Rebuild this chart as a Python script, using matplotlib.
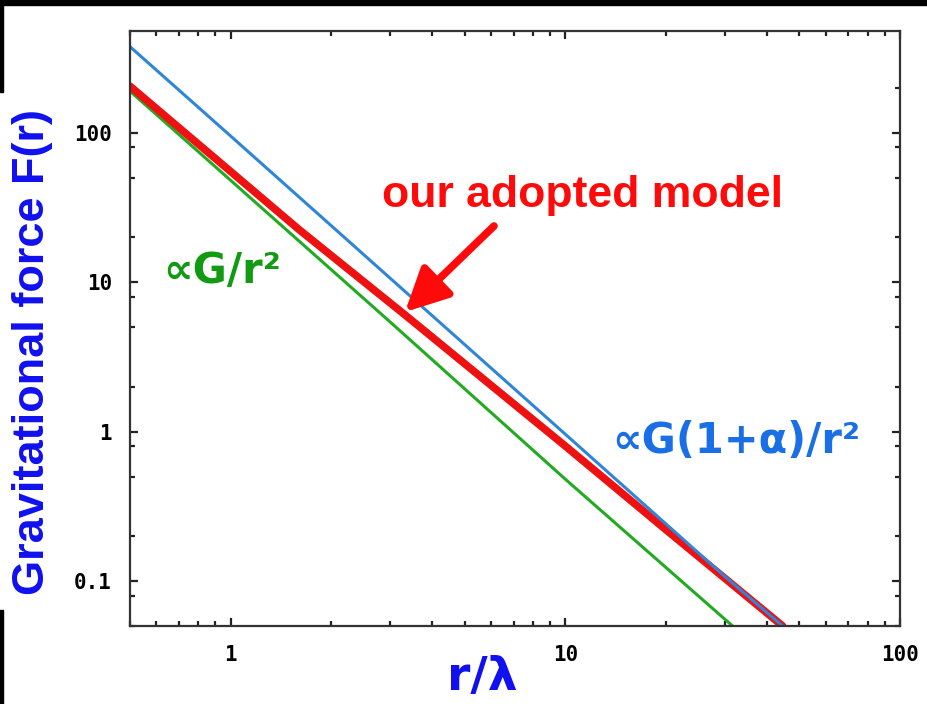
import matplotlib
matplotlib.use('Agg')
from matplotlib import pyplot as plt
from matplotlib.patches import Rectangle
from matplotlib.ticker import FixedLocator, FixedFormatter, NullFormatter

# r/lambda and force values for the three curves
r_newton = [0.5, 1.0, 3.0, 10.0, 31.6]
f_newton = [190, 48, 5.4, 0.48, 0.05]

r_enhanced = [0.5, 1.0, 3.0, 10.0, 30.0, 44.6]
f_enhanced = [377, 95, 10.6, 0.96, 0.107, 0.05]

r_model = [0.5, 1.0, 1.6, 3.3, 10.0, 20.0, 44.6]
f_model = [205, 55, 22.5, 6.1, 0.8, 0.22, 0.05]

x_major = [1, 10, 100]
x_labels = ['1', '10', '100']
y_major = [0.1, 1, 10, 100]
y_labels = ['0.1', '1', '10', '100']
y_minor = [0.08, 0.05, 0.2, 0.5, 0.8, 2, 5, 8, 20, 50, 80, 200]

fig = plt.figure(figsize=(9.28, 7.04), dpi=100)
ax = fig.add_axes([130 / 928, 78 / 704, 770 / 928, 595 / 704])

ax.plot(r_newton, f_newton, color='#22aa22', lw=2.2)
ax.plot(r_model, f_model, color='#ee1111', lw=5.5, solid_capstyle='round')
ax.plot(r_enhanced, f_enhanced, color='#2f86d9', lw=2.2)

ax.set_xscale('log')
ax.set_yscale('log')
ax.set_xlim(0.5, 100)
ax.set_ylim(0.05, 480)

ax.xaxis.set_major_locator(FixedLocator(x_major))
ax.xaxis.set_major_formatter(FixedFormatter(x_labels))
ax.xaxis.set_minor_formatter(NullFormatter())
ax.yaxis.set_major_locator(FixedLocator(y_major))
ax.yaxis.set_major_formatter(FixedFormatter(y_labels))
ax.yaxis.set_minor_locator(FixedLocator(y_minor))
ax.yaxis.set_minor_formatter(NullFormatter())

for s in ax.spines.values():
    s.set_linewidth(1.6)
    s.set_color('#333333')
ax.tick_params(which='both', direction='in', top=True, right=True, color='#222222')
ax.tick_params(which='major', length=6, width=1.6)
ax.tick_params(which='minor', length=3.5, width=1.6)
ax.tick_params(axis='x', pad=14)
ax.tick_params(axis='y', pad=13)
for lab in ax.get_xticklabels() + ax.get_yticklabels():
    lab.set_fontfamily('DejaVu Sans Mono')
    lab.set_fontweight('bold')
    lab.set_fontsize(15)

sans = ['Liberation Sans', 'DejaVu Sans']
fig.text(33 / 928, 1 - 352 / 704, 'Gravitational force F(r)', rotation=90,
         ha='center', va='center', color='#1010f0', fontsize=32.5,
         fontweight='bold', family=sans)
fig.text(482 / 928, 1 - 690 / 704, 'r/\u03bb', ha='center', va='baseline',
         color='#1010f0', fontsize=34, fontweight='bold', family='DejaVu Sans')

fig.text(582 / 928, 1 - 207 / 704, 'our adopted model', ha='center',
         va='baseline', color='#ff0a0a', fontsize=32, fontweight='bold',
         family=sans)
fig.text(163 / 928, 1 - 283 / 704, '\u221dG/r\u00b2', ha='left', va='baseline',
         color='#129a12', fontsize=30, fontweight='bold', family='DejaVu Sans')
fig.text(612 / 928, 1 - 453 / 704, '\u221dG(1+\u03b1)/r\u00b2', ha='left',
         va='baseline', color='#1a6ee6', fontsize=30, fontweight='bold',
         family='DejaVu Sans')

ax.annotate('', xy=(405 / 928, 1 - 312 / 704), xycoords='figure fraction',
            xytext=(494 / 928, 1 - 226 / 704), textcoords='figure fraction',
            arrowprops=dict(arrowstyle='-|>,head_length=2.6,head_width=1.3',
                            color='#ff0a0a', lw=5.5, shrinkA=0, shrinkB=0))

# dark border strips along the edges
fig.add_artist(Rectangle((0, 1 - 5 / 704), 1, 5 / 704, transform=fig.transFigure,
                         color='black', zorder=10))
fig.add_artist(Rectangle((0, 1 - 92 / 704), 3 / 928, 92 / 704,
                         transform=fig.transFigure, color='black', zorder=10))
fig.add_artist(Rectangle((0, 0), 3 / 928, 94 / 704, transform=fig.transFigure,
                         color='black', zorder=10))

fig.savefig('out.png', dpi=100)
